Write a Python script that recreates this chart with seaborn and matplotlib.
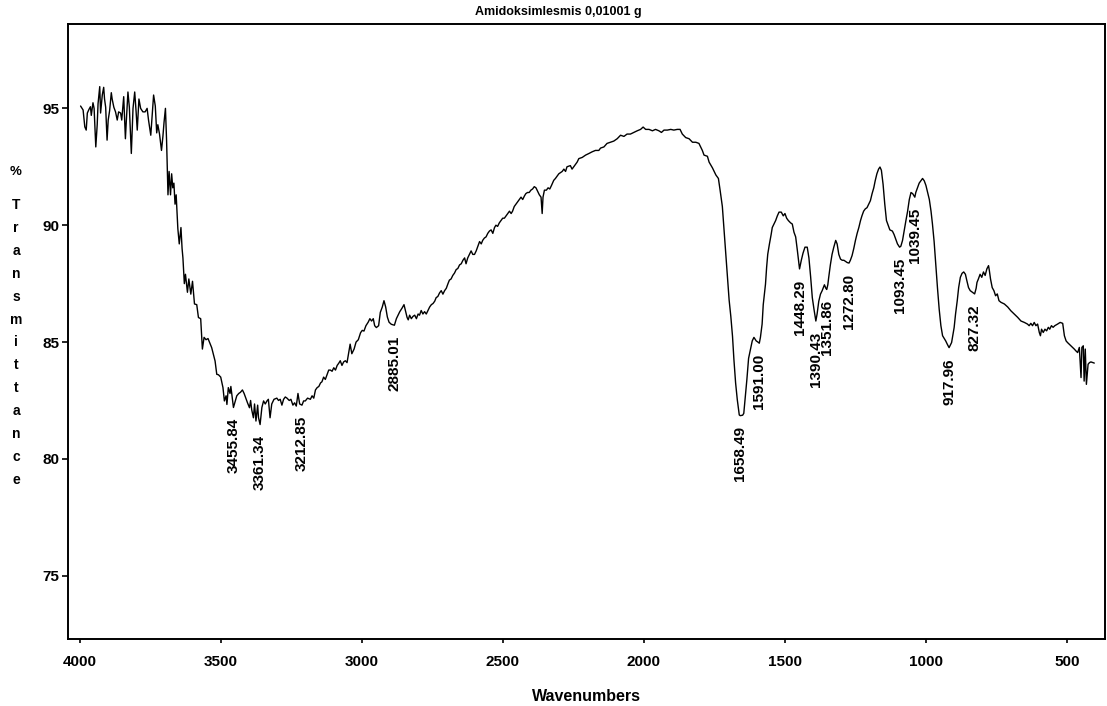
import numpy as np
import matplotlib
matplotlib.use("Agg")
import matplotlib.pyplot as plt
import seaborn as sns

# FTIR spectrum: wavenumber (cm-1) and % transmittance
wavenumber = [
    3998, 3989, 3983, 3978, 3974, 3968, 3963, 3960, 3954, 3950,
    3944, 3939, 3936, 3930, 3927, 3921, 3916, 3913, 3909, 3904,
    3900, 3895, 3889, 3886, 3880, 3874, 3868, 3863, 3856, 3852,
    3845, 3839, 3836, 3830, 3825, 3818, 3812, 3806, 3801, 3797,
    3791, 3785, 3777, 3769, 3762, 3757, 3749, 3745, 3739, 3733,
    3728, 3724, 3718, 3711, 3706, 3702, 3697, 3693, 3688, 3684,
    3679, 3675, 3671, 3667, 3663, 3659, 3653, 3648, 3642, 3638,
    3635, 3630, 3626, 3619, 3614, 3607, 3601, 3594, 3586, 3580,
    3572, 3566, 3560, 3553, 3546, 3533, 3521, 3515, 3509, 3501,
    3493, 3488, 3482, 3479, 3474, 3468, 3465, 3455.84, 3450, 3444,
    3437, 3431, 3424, 3418, 3412, 3406, 3399, 3395, 3391, 3385,
    3381, 3376, 3370, 3367, 3361.34, 3355, 3349, 3343, 3337, 3332,
    3326, 3320, 3312, 3302, 3296, 3290, 3284, 3278, 3272, 3266,
    3258, 3252, 3245, 3239, 3233, 3227, 3221, 3212.85, 3207, 3201,
    3193, 3183, 3177, 3171, 3165, 3159, 3153, 3147, 3142, 3136,
    3130, 3124, 3118, 3112, 3106, 3100, 3094, 3088, 3082, 3077,
    3071, 3065, 3059, 3053, 3048, 3042, 3036, 3028, 3021, 3013,
    3005, 2999, 2993, 2986, 2978, 2972, 2966, 2960, 2955, 2949,
    2941, 2935, 2928, 2922, 2916, 2910, 2904, 2896, 2885.01, 2878,
    2866, 2858, 2851, 2845, 2840, 2836, 2831, 2825, 2819, 2813,
    2807, 2801, 2796, 2790, 2784, 2778, 2772, 2766, 2760, 2754,
    2748, 2742, 2737, 2731, 2725, 2719, 2713, 2707, 2701, 2695,
    2690, 2684, 2678, 2672, 2666, 2660, 2654, 2648, 2642, 2636,
    2631, 2625, 2619, 2613, 2607, 2601, 2595, 2589, 2583, 2577,
    2572, 2566, 2560, 2554, 2548, 2542, 2536, 2530, 2525, 2519,
    2513, 2507, 2501, 2495, 2489, 2483, 2477, 2471, 2466, 2460,
    2454, 2448, 2442, 2436, 2430, 2424, 2419, 2413, 2407, 2401,
    2395, 2389, 2383, 2377, 2371, 2365, 2361, 2358, 2353, 2346,
    2340, 2334, 2328, 2320, 2314, 2308, 2302, 2290, 2284, 2278,
    2273, 2261, 2255, 2249, 2237, 2231, 2219, 2207, 2195, 2184,
    2172, 2160, 2154, 2142, 2131, 2119, 2107, 2095, 2083, 2071,
    2060, 2048, 2036, 2024, 2012, 2003, 1994, 1982, 1970, 1959,
    1947, 1938, 1929, 1917, 1905, 1894, 1882, 1872, 1864, 1852,
    1840, 1828, 1816, 1805, 1793, 1787, 1775, 1769, 1757, 1745,
    1736, 1730, 1722, 1716, 1710, 1704, 1698, 1692, 1686, 1681,
    1675, 1669, 1662, 1658.49, 1650, 1646, 1635, 1629, 1622, 1616,
    1610, 1602, 1596, 1591.00, 1587, 1581, 1577, 1569, 1565, 1561,
    1555, 1549, 1545, 1533, 1527, 1521, 1513, 1506, 1500, 1494,
    1488, 1480, 1474, 1468, 1462, 1456, 1448.29, 1442, 1436, 1429,
    1421, 1415, 1409, 1403, 1397, 1390.43, 1386, 1380, 1374, 1368,
    1360, 1355, 1351.86, 1348, 1345, 1339, 1333, 1327, 1320, 1315,
    1309, 1303, 1297, 1291, 1285, 1279, 1272.80, 1268, 1262, 1256,
    1250, 1244, 1238, 1232, 1227, 1221, 1215, 1209, 1203, 1197,
    1191, 1185, 1180, 1174, 1168, 1163, 1158, 1152, 1146, 1140,
    1134, 1128, 1119, 1113, 1107, 1101, 1093.45, 1089, 1083, 1077,
    1071, 1065, 1059, 1053, 1047, 1039.45, 1036, 1030, 1024, 1018,
    1012, 1006, 1000, 994, 988, 982, 977, 971, 965, 959,
    953, 947, 941, 935, 930, 924, 917.96, 909, 900, 895,
    889, 884, 878, 872, 866, 860, 855, 849, 843, 835,
    827.32, 822, 819, 814, 808, 802, 796, 790, 784, 778,
    775, 771, 765, 759, 753, 747, 741, 734, 722, 710,
    699, 687, 675, 663, 651, 640, 634, 628, 622, 616,
    610, 604, 598, 594, 590, 584, 578, 572, 566, 561,
    555, 549, 543, 533, 524, 515, 509, 503, 498, 492,
    486, 480, 474, 468, 462, 456, 450, 447, 442, 439,
    435, 431, 425, 420, 415, 403,
]

transmittance = [
    95.10, 94.93, 94.21, 94.07, 94.80, 94.96, 95.07, 94.70, 95.24, 95.00,
    93.35, 94.30, 95.20, 95.93, 94.80, 95.57, 95.90, 95.40, 95.05, 93.64,
    94.50, 94.90, 95.67, 95.40, 95.05, 94.85, 94.50, 94.85, 94.80, 94.50,
    95.50, 93.70, 94.40, 95.70, 95.05, 93.07, 95.00, 95.70, 94.85, 94.07,
    95.40, 95.00, 94.85, 94.85, 95.00, 94.50, 93.85, 94.55, 95.57, 95.10,
    93.95, 94.30, 93.90, 93.20, 93.80, 94.40, 95.00, 93.64, 91.30, 92.30,
    91.30, 92.20, 91.60, 91.80, 90.90, 91.30, 89.85, 89.20, 89.90, 89.00,
    88.60, 87.50, 87.90, 87.13, 87.70, 87.05, 87.60, 86.63, 86.60, 86.05,
    86.00, 84.70, 85.20, 85.10, 85.15, 84.76, 84.19, 83.62, 83.60, 83.50,
    83.05, 82.48, 82.70, 82.33, 83.05, 82.80, 83.10, 82.20, 82.45, 82.70,
    82.80, 82.85, 82.95, 82.80, 82.60, 82.40, 82.19, 82.50, 82.10, 81.76,
    82.35, 81.62, 82.30, 81.77, 81.47, 82.20, 82.48, 82.35, 82.48, 82.55,
    81.76, 82.35, 82.55, 82.60, 82.50, 82.55, 82.30, 82.55, 82.65, 82.60,
    82.50, 82.55, 82.30, 82.40, 82.26, 82.80, 82.35, 82.30, 82.48, 82.48,
    82.60, 82.55, 82.70, 82.60, 82.95, 83.05, 83.10, 83.25, 83.30, 83.50,
    83.40, 83.60, 83.80, 83.80, 83.75, 83.90, 83.80, 84.00, 84.10, 84.20,
    84.00, 84.15, 84.20, 84.12, 84.48, 84.91, 84.50, 84.70, 85.00, 85.10,
    85.40, 85.50, 85.47, 85.70, 85.85, 86.00, 85.90, 86.00, 85.70, 85.62,
    85.70, 86.27, 86.50, 86.77, 86.50, 86.07, 85.85, 85.76, 85.72, 86.00,
    86.30, 86.45, 86.60, 86.30, 86.05, 85.95, 86.15, 86.00, 86.10, 86.15,
    86.00, 86.20, 86.15, 86.35, 86.20, 86.30, 86.20, 86.35, 86.50, 86.60,
    86.65, 86.75, 86.90, 86.95, 87.10, 87.20, 87.05, 87.20, 87.30, 87.50,
    87.65, 87.70, 87.85, 87.95, 88.10, 88.15, 88.30, 88.35, 88.50, 88.60,
    88.35, 88.60, 88.75, 88.90, 88.75, 88.75, 88.90, 89.10, 89.30, 89.20,
    89.35, 89.45, 89.50, 89.65, 89.75, 89.80, 89.65, 89.90, 90.00, 89.95,
    90.10, 90.20, 90.30, 90.30, 90.40, 90.50, 90.60, 90.50, 90.60, 90.80,
    90.90, 91.00, 91.10, 91.20, 91.10, 91.25, 91.35, 91.40, 91.40, 91.50,
    91.55, 91.65, 91.60, 91.45, 91.30, 91.20, 90.50, 91.20, 91.50, 91.50,
    91.60, 91.55, 91.70, 91.92, 92.00, 92.10, 92.20, 92.30, 92.40, 92.30,
    92.50, 92.55, 92.40, 92.50, 92.70, 92.85, 92.90, 93.00, 93.07, 93.14,
    93.20, 93.20, 93.30, 93.35, 93.50, 93.55, 93.60, 93.70, 93.85, 93.80,
    93.90, 93.90, 93.97, 94.04, 94.10, 94.20, 94.10, 94.10, 94.04, 94.10,
    94.04, 93.97, 94.07, 94.07, 94.10, 94.07, 94.10, 94.10, 93.90, 93.75,
    93.70, 93.55, 93.55, 93.50, 93.20, 93.00, 92.95, 92.70, 92.45, 92.15,
    92.00, 91.50, 90.80, 89.80, 88.80, 87.80, 86.80, 86.10, 85.25, 84.25,
    83.25, 82.53, 81.88, 81.85, 81.87, 81.95, 83.40, 84.30, 84.70, 85.05,
    85.20, 85.05, 85.00, 84.95, 85.20, 85.77, 86.60, 87.48, 88.20, 88.76,
    89.20, 89.60, 89.90, 90.20, 90.40, 90.56, 90.56, 90.40, 90.50, 90.30,
    90.20, 90.10, 90.05, 89.70, 89.50, 88.92, 88.13, 88.50, 88.80, 89.06,
    89.06, 88.60, 87.80, 86.90, 86.40, 85.90, 86.20, 86.75, 87.05, 87.20,
    87.45, 87.30, 87.25, 87.45, 87.75, 88.30, 88.75, 89.05, 89.35, 89.20,
    88.75, 88.55, 88.50, 88.50, 88.45, 88.40, 88.38, 88.50, 88.70, 89.00,
    89.35, 89.65, 89.90, 90.20, 90.40, 90.60, 90.70, 90.75, 90.90, 91.05,
    91.35, 91.60, 91.90, 92.20, 92.40, 92.49, 92.35, 91.75, 90.90, 90.20,
    90.00, 89.80, 89.75, 89.60, 89.40, 89.20, 89.06, 89.10, 89.35, 89.78,
    90.20, 90.60, 91.10, 91.40, 91.35, 91.20, 91.40, 91.60, 91.80, 91.90,
    92.00, 91.90, 91.70, 91.40, 91.10, 90.60, 90.06, 89.30, 88.30, 87.30,
    86.40, 85.70, 85.27, 85.15, 85.05, 84.90, 84.76, 84.98, 85.62, 86.20,
    86.77, 87.33, 87.77, 87.94, 88.00, 87.90, 87.63, 87.33, 87.20, 87.13,
    87.06, 87.30, 87.55, 87.70, 87.90, 87.77, 88.00, 87.85, 88.13, 88.27,
    88.05, 87.70, 87.33, 87.20, 86.98, 87.06, 86.77, 86.70, 86.63, 86.50,
    86.34, 86.20, 86.06, 85.90, 85.84, 85.77, 85.70, 85.80, 85.70, 85.84,
    85.70, 85.77, 85.41, 85.27, 85.55, 85.41, 85.55, 85.48, 85.63, 85.55,
    85.70, 85.63, 85.70, 85.77, 85.84, 85.80, 85.27, 85.05, 84.98, 84.91,
    84.84, 84.77, 84.70, 84.62, 84.55, 84.77, 83.48, 84.77, 84.84, 83.33,
    84.70, 83.19, 84.05, 84.12, 84.15, 84.10,
]

# Labelled band positions (cm-1)
peak_labels = [3455.84, 3361.34, 3212.85, 2885.01, 1658.49, 1591.00, 1448.29,
               1390.43, 1351.86, 1272.80, 1093.45, 1039.45, 917.96, 827.32]

x_ticks = [4000, 3500, 3000, 2500, 2000, 1500, 1000, 500]
y_ticks = [75, 80, 85, 90, 95]

title_text = "Amidoksimlesmis 0,01001 g"
x_title = "Wavenumbers"
y_title = "%  Transmittance"

sns.set_theme(style="ticks")
plt.rcParams["font.family"] = ["Liberation Sans", "DejaVu Sans"]
plt.rcParams["font.weight"] = "bold"
plt.rcParams["text.color"] = "black"
plt.rcParams["axes.labelcolor"] = "black"
plt.rcParams["xtick.color"] = "black"
plt.rcParams["ytick.color"] = "black"

fig = plt.figure(figsize=(11.07, 7.06), dpi=100)
ax = fig.add_axes([68.3 / 1107, 1 - 639.3 / 706, (1105 - 68.3) / 1107, (639.3 - 24) / 706])

sns.lineplot(x=wavenumber, y=transmittance, ax=ax, color="black", lw=1.0,
             estimator=None, sort=False, legend=False)

ax.set_xlim(4041.5, 365)
ax.set_ylim(72.28, 98.61)
ax.set_xticks(x_ticks)
ax.set_yticks(y_ticks)
ax.set_xticklabels([str(t) for t in x_ticks], fontsize=11, fontweight="bold", color="black")
ax.set_yticklabels([str(t) for t in y_ticks], fontsize=11, fontweight="bold", color="black")
ax.tick_params(axis="x", direction="out", length=3, width=1.2, pad=8.5, colors="black")
ax.tick_params(axis="y", direction="out", length=4.5, width=1.2, pad=2, colors="black")
for side in ["left", "right", "top", "bottom"]:
    ax.spines[side].set_visible(True)
    ax.spines[side].set_color("black")
    ax.spines[side].set_linewidth(1.4)
ax.grid(False)

ax.set_xlabel(x_title, fontsize=11.5, fontweight="bold", labelpad=14, color="black")
ax.set_ylabel("")

# Stacked vertical y-axis title
letters = [c for c in y_title if c != " "]
fig.text(16 / 1107, 1 - 172 / 706, letters[0], ha="center", va="center",
         fontsize=9.5, fontweight="bold", color="black")
for i, ch in enumerate(letters[1:]):
    fig.text(16 / 1107, 1 - (205 + 22.9 * i) / 706, ch, ha="center", va="center",
             fontsize=10, fontweight="bold", color="black")

fig.text(558 / 1107, 1 - 12 / 706, title_text, ha="center", va="center",
         fontsize=9, fontweight="bold", color="black")

# Band labels placed just below each marked position
wn_arr = np.array(wavenumber)[::-1]
tr_arr = np.array(transmittance)[::-1]
for p in peak_labels:
    yv = np.interp(p, wn_arr, tr_arr)
    ax.text(p, yv - 0.45, f"{p:.2f}", rotation=90, ha="center", va="top",
            fontsize=11, fontweight="bold", color="black")

fig.savefig("out.png", dpi=100, facecolor="white")
